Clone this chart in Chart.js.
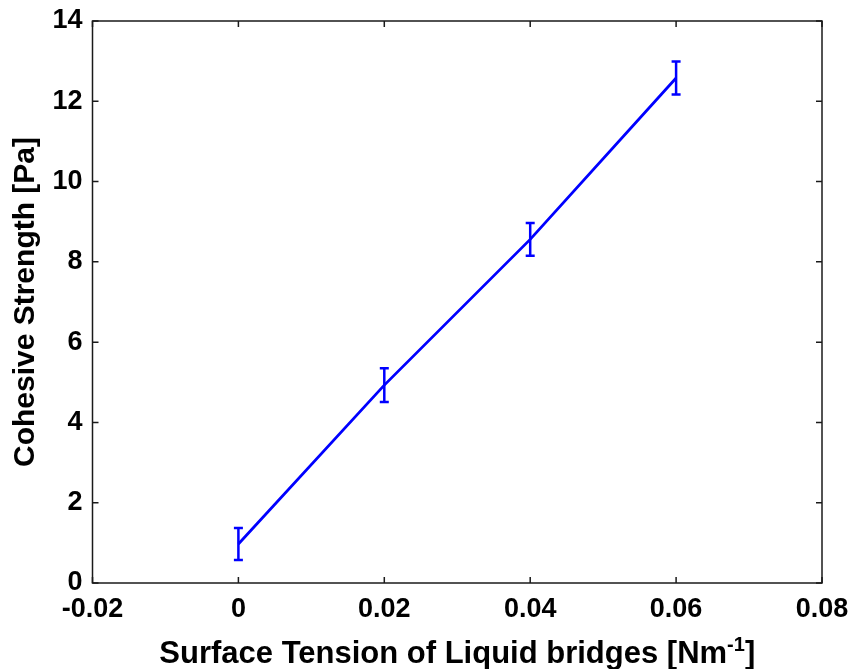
<!DOCTYPE html>
<html>
<head>
<meta charset="utf-8">
<title>Cohesive Strength vs Surface Tension</title>
<script src="https://cdn.jsdelivr.net/npm/chart.js@4.4.1/dist/chart.umd.min.js"></script>
<style>
    html, body { margin: 0; padding: 0; background: #fff; }
    #wrap { width: 853px; height: 669px; }
</style>
</head>
<body>
<div id="wrap"><canvas id="strengthChart" width="853" height="669"></canvas></div>
<script>
// Data
const surfaceTension = [0, 0.02, 0.04, 0.06];
const cohesiveStrength = [0.97, 4.93, 8.56, 12.58];
const strengthError = [0.4, 0.42, 0.41, 0.41];

// Axis ticks
const xTickValues = [-0.02, 0, 0.02, 0.04, 0.06, 0.08];
const xTickLabels = ['-0.02', '0', '0.02', '0.04', '0.06', '0.08'];
const yTickValues = [0, 2, 4, 6, 8, 10, 12, 14];
const yTickLabels = ['0', '2', '4', '6', '8', '10', '12', '14'];

const FONT = "'Liberation Sans', Arial, sans-serif";
const BLUE = '#0000ff';
const AXIS = '#1a1a1a';

document.addEventListener('DOMContentLoaded', function() {
    const points = surfaceTension.map((x, i) => ({ x: x, y: cohesiveStrength[i] }));

    // Error bars with small caps
    const errorBarPlugin = {
        id: 'errorBars',
        afterDatasetsDraw(chart) {
            const ctx = chart.ctx;
            const xs = chart.scales.x, ys = chart.scales.y;
            ctx.save();
            ctx.strokeStyle = BLUE;
            ctx.lineWidth = 2.5;
            surfaceTension.forEach((x, i) => {
                const px = xs.getPixelForValue(x);
                const top = ys.getPixelForValue(cohesiveStrength[i] + strengthError[i]);
                const bot = ys.getPixelForValue(cohesiveStrength[i] - strengthError[i]);
                ctx.beginPath();
                ctx.moveTo(px, top); ctx.lineTo(px, bot);
                ctx.moveTo(px - 4.5, top); ctx.lineTo(px + 4.5, top);
                ctx.moveTo(px - 4.5, bot); ctx.lineTo(px + 4.5, bot);
                ctx.stroke();
            });
            ctx.restore();
        }
    };

    // Box around the axes, inward ticks on all four sides, axis titles
    const boxPlugin = {
        id: 'matlabBox',
        afterDraw(chart) {
            const ctx = chart.ctx;
            const a = chart.chartArea;
            const xs = chart.scales.x, ys = chart.scales.y;
            const len = 6;
            ctx.save();
            ctx.strokeStyle = AXIS;
            ctx.lineWidth = 1.5;
            ctx.strokeRect(a.left, a.top, a.right - a.left, a.bottom - a.top);
            ctx.beginPath();
            xTickValues.forEach(v => {
                const px = xs.getPixelForValue(v);
                ctx.moveTo(px, a.bottom); ctx.lineTo(px, a.bottom - len);
                ctx.moveTo(px, a.top); ctx.lineTo(px, a.top + len);
            });
            yTickValues.forEach(v => {
                const py = ys.getPixelForValue(v);
                ctx.moveTo(a.left, py); ctx.lineTo(a.left + len, py);
                ctx.moveTo(a.right, py); ctx.lineTo(a.right - len, py);
            });
            ctx.stroke();

            ctx.fillStyle = '#000';
            // y title
            ctx.save();
            ctx.translate(26, (a.top + a.bottom) / 2);
            ctx.rotate(-Math.PI / 2);
            ctx.font = 'bold 30px ' + FONT;
            ctx.textAlign = 'center';
            ctx.textBaseline = 'middle';
            ctx.fillText('Cohesive Strength [Pa]', 0, 0);
            ctx.restore();

            // x title with superscript
            const main = 'Surface Tension of Liquid bridges [Nm';
            const sup = '-1';
            const tail = ']';
            ctx.font = 'bold 31px ' + FONT;
            const wMain = ctx.measureText(main).width;
            const wTail = ctx.measureText(tail).width;
            ctx.font = 'bold 20px ' + FONT;
            const wSup = ctx.measureText(sup).width;
            const total = wMain + wSup + wTail;
            let x0 = (a.left + a.right) / 2 - total / 2;
            const base = 663;
            ctx.textAlign = 'left';
            ctx.textBaseline = 'alphabetic';
            ctx.font = 'bold 31px ' + FONT;
            ctx.fillText(main, x0, base);
            ctx.font = 'bold 20px ' + FONT;
            ctx.fillText(sup, x0 + wMain, base - 12);
            ctx.font = 'bold 31px ' + FONT;
            ctx.fillText(tail, x0 + wMain + wSup, base);
            ctx.restore();
        }
    };

    new Chart(document.getElementById('strengthChart').getContext('2d'), {
        type: 'line',
        data: {
            datasets: [{
                data: points,
                borderColor: BLUE,
                borderWidth: 2.8,
                pointRadius: 0,
                fill: false,
                tension: 0
            }]
        },
        options: {
            responsive: false,
            animation: false,
            layout: { padding: { top: 21, right: 31, left: 0, bottom: 0 } },
            plugins: {
                legend: { display: false },
                tooltip: { enabled: false }
            },
            scales: {
                x: {
                    type: 'linear',
                    min: -0.02,
                    max: 0.08,
                    grid: { display: false, drawTicks: false },
                    border: { display: false },
                    afterBuildTicks: s => { s.ticks = xTickValues.map(v => ({ value: v })); },
                    afterFit: s => {
                        s.height = 86;
                        s.paddingLeft = 0;
                        s.paddingRight = 0;
                    },
                    ticks: {
                        padding: 10,
                        maxRotation: 0,
                        autoSkip: false,
                        color: '#000',
                        font: { family: FONT, size: 27, weight: 'bold' },
                        callback: (v, i) => xTickLabels[i]
                    }
                },
                y: {
                    min: 0,
                    max: 14,
                    grid: { display: false, drawTicks: false },
                    border: { display: false },
                    afterBuildTicks: s => { s.ticks = yTickValues.map(v => ({ value: v })); },
                    afterFit: s => {
                        s.width = 92.5;
                        s.paddingTop = 0;
                        s.paddingBottom = 0;
                    },
                    ticks: {
                        padding: 10,
                        autoSkip: false,
                        color: '#000',
                        font: { family: FONT, size: 27, weight: 'bold' },
                        callback: (v, i) => yTickLabels[i]
                    }
                }
            }
        },
        plugins: [errorBarPlugin, boxPlugin]
    });
});
</script>
</body>
</html>
